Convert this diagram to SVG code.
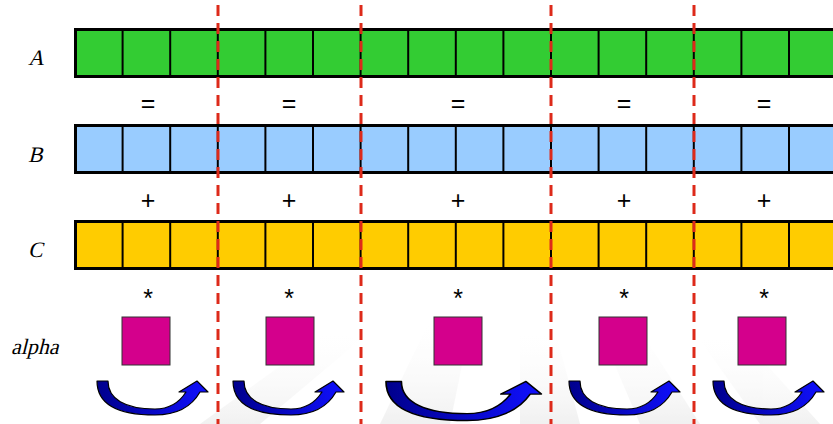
<svg xmlns="http://www.w3.org/2000/svg" width="833" height="424" viewBox="0 0 833 424">
<style>
.op{font-family:"Liberation Sans",Arial,sans-serif;font-size:25px;fill:#000;text-anchor:middle}
.lbl{font-family:"Liberation Serif","Times New Roman",serif;font-size:22px;fill:#000}
.row{stroke:#000;stroke-width:3}
.div{stroke:#000;stroke-width:2}
.cut{stroke:#dd2a1a;stroke-width:3;stroke-dasharray:11 7;fill:none}
.alpha{fill:#d4008c;stroke:#333;stroke-width:1}
.arr{fill:url(#ag);stroke:#000;stroke-width:1.2;stroke-linejoin:round}
</style>
<defs>
<linearGradient id="ag" x1="0" y1="0" x2="1" y2="0">
<stop offset="0" stop-color="#00008c"/>
<stop offset="1" stop-color="#1010ff"/>
</linearGradient>
<linearGradient id="bgs" x1="0" y1="1" x2="0" y2="0">
<stop offset="0" stop-color="#d8d8d8" stop-opacity="0.6"/>
<stop offset="1" stop-color="#ffffff" stop-opacity="0"/>
</linearGradient>
<path id="arrow" d="M0,3 C0,29 26,37 58,37 C80,37 95,28 103,14 L111,14 L100,3 L82,14 L89,14 C82,25 72,31 58,31 C28,31 11,21 11,3 Z"/>
</defs>
<rect width="833" height="424" fill="#fff"/>
<g id="background" opacity="0.6">
<polygon points="200,424 330,330 360,340 260,424" fill="url(#bgs)"/>
<polygon points="380,424 430,320 470,325 450,424" fill="url(#bgs)"/>
<polygon points="520,424 520,330 555,330 580,424" fill="url(#bgs)"/>
<polygon points="640,424 600,330 640,330 700,424" fill="url(#bgs)"/>
<polygon points="760,424 700,340 740,335 820,424" fill="url(#bgs)"/>
</g>
<g id="labels">
<text class="lbl" transform="translate(28,65) skewX(-14)">A</text>
<text class="lbl" transform="translate(28,162) skewX(-14)">B</text>
<text class="lbl" transform="translate(28,257) skewX(-14)">C</text>
<text class="lbl" transform="translate(11,354) skewX(-14)">alpha</text>
</g>
<g id="rowA">
<rect class="row" x="75.5" y="29.5" width="800" height="47" fill="#33cc33"/>
<path class="div" d="M122.6,30V76M170.2,30V76M217.8,30V76M265.4,30V76M313,30V76M360.6,30V76M408.2,30V76M455.8,30V76M503.4,30V76M551,30V76M598.6,30V76M646.2,30V76M693.8,30V76M741.4,30V76M789,30V76"/>
</g>
<g id="rowB">
<rect class="row" x="75.5" y="125.5" width="800" height="47" fill="#99ccff"/>
<path class="div" d="M122.6,126V172M170.2,126V172M217.8,126V172M265.4,126V172M313,126V172M360.6,126V172M408.2,126V172M455.8,126V172M503.4,126V172M551,126V172M598.6,126V172M646.2,126V172M693.8,126V172M741.4,126V172M789,126V172"/>
</g>
<g id="rowC">
<rect class="row" x="75.5" y="221.5" width="800" height="47" fill="#ffcc00"/>
<path class="div" d="M122.6,222V268M170.2,222V268M217.8,222V268M265.4,222V268M313,222V268M360.6,222V268M408.2,222V268M455.8,222V268M503.4,222V268M551,222V268M598.6,222V268M646.2,222V268M693.8,222V268M741.4,222V268M789,222V268"/>
</g>
<g id="operators">
<text class="op" x="148" y="112">=</text>
<text class="op" x="289" y="112">=</text>
<text class="op" x="458" y="112">=</text>
<text class="op" x="624" y="112">=</text>
<text class="op" x="764" y="112">=</text>
<text class="op" x="148" y="209">+</text>
<text class="op" x="289" y="209">+</text>
<text class="op" x="458" y="209">+</text>
<text class="op" x="624" y="209">+</text>
<text class="op" x="764" y="209">+</text>
<text class="op" x="148" y="307">*</text>
<text class="op" x="289" y="307">*</text>
<text class="op" x="458" y="307">*</text>
<text class="op" x="624" y="307">*</text>
<text class="op" x="764" y="307">*</text>
</g>
<g id="alphas">
<rect class="alpha" x="122" y="317" width="48" height="48"/>
<rect class="alpha" x="266" y="317" width="48" height="48"/>
<rect class="alpha" x="434" y="317" width="48" height="48"/>
<rect class="alpha" x="599" y="317" width="48" height="48"/>
<rect class="alpha" x="738" y="317" width="48" height="48"/>
</g>
<g id="arrows">
<use href="#arrow" class="arr" transform="translate(97,378)"/>
<use href="#arrow" class="arr" transform="translate(233,378)"/>
<use href="#arrow" class="arr" transform="translate(386,378) scale(1.4,1.15)"/>
<use href="#arrow" class="arr" transform="translate(569,378)"/>
<use href="#arrow" class="arr" transform="translate(713,378)"/>
</g>
<g id="connectors">
<line class="cut" x1="218" y1="5" x2="218" y2="424"/>
<line class="cut" x1="361" y1="5" x2="361" y2="424"/>
<line class="cut" x1="551" y1="5" x2="551" y2="424"/>
<line class="cut" x1="694" y1="5" x2="694" y2="424"/>
</g>
</svg>
